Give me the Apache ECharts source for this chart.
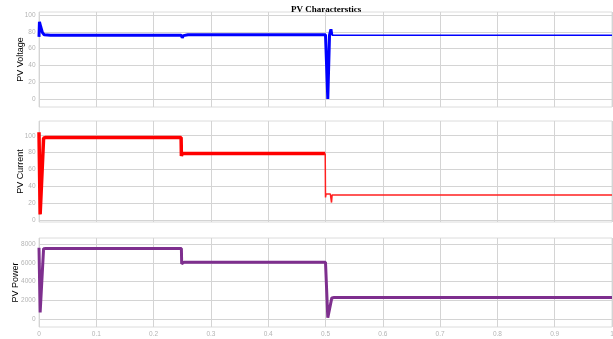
<!DOCTYPE html>
<html><head><meta charset="utf-8">
<script src="https://cdn.jsdelivr.net/npm/echarts@6/dist/echarts.min.js"></script>
<style>html,body{margin:0;padding:0;background:#fff}#c{width:613px;height:339px}</style>
</head><body><div id="c"></div>
<script>
// ---- data ----
const titleText = 'PV Characterstics';
const xTicks = [0,0.1,0.2,0.3,0.4,0.5,0.6,0.7,0.8,0.9,1];
const vTicks = [0,20,40,60,80,100];
const iTicks = [0,20,40,60,80,100];
const pTicks = [0,2000,4000,6000,8000];

// Voltage (thick part, then thin part)
const tV1 = [0, 0.0008, 0.003, 0.006, 0.009, 0.02, 0.248, 0.25, 0.252, 0.26, 0.5, 0.504, 0.507, 0.509, 0.5095, 0.5105, 0.511];
const vV1 = [74, 92, 86, 79, 76.5, 76, 76, 73, 75.5, 76.5, 76.5, 0, 76, 76, 83, 83, 76];
const tV2 = [0.511, 1];
const vV2 = [76, 76];

// Current
const tI1 = [0, 0.0003, 0.002, 0.008, 0.012, 0.248, 0.2485, 0.25, 0.4995];
const vI1 = [104, 104, 7, 97, 98, 98, 76, 79, 79];
const tI2 = [0.4995, 0.5, 0.5005, 0.501, 0.5085, 0.51, 0.5105, 0.5115, 1];
const vI2 = [79, 27, 27, 31, 31, 30, 21, 30, 30];

// Power
const tP = [0, 0.0003, 0.002, 0.008, 0.012, 0.2485, 0.249, 0.253, 0.5, 0.504, 0.511, 0.515, 1];
const vP = [7600, 7600, 700, 7500, 7520, 7520, 5900, 6050, 6050, 140, 2250, 2300, 2300];

const pair = (t, v) => t.map((x, i) => [x, v[i]]);

// ---- chart ----
const chart = echarts.init(document.getElementById('c'), null, {renderer: 'canvas'});
const gridColor = '#d4d4d4';
const labelColor = '#b4b4b4';
function yAxis(gi, name, min, max, ticks, gap) {
  return {
    type: 'value', gridIndex: gi, min: min, max: max,
    name: name, nameLocation: 'middle', nameGap: gap, nameRotate: 90, nameMoveOverlap: false,
    nameTextStyle: {color: '#000', fontSize: 9, fontFamily: 'Liberation Sans'},
    axisLine: {show: false},
    axisTick: {show: false, customValues: ticks},
    axisLabel: {customValues: ticks, color: labelColor, fontSize: 6.5, fontFamily: 'Liberation Sans', margin: 3.5,
      formatter: v => String(v)},
    splitLine: {show: true, lineStyle: {color: gridColor, width: 1}}
  };
}
function xAxis(gi, showLabels) {
  return {
    type: 'value', gridIndex: gi, min: 0, max: 1, interval: 0.1,
    axisLine: {show: false}, axisTick: {show: false},
    axisLabel: {show: showLabels, color: labelColor, fontSize: 6.5, fontFamily: 'Liberation Sans', margin: 4,
      customValues: xTicks, formatter: v => String(Math.round(v * 10) / 10)},
    splitLine: {show: true, lineStyle: {color: gridColor, width: 1}}
  };
}
const gridBase = {left: 39, width: 573, show: true, borderColor: '#dcdcdc', borderWidth: 1,
  containLabel: false, outerBoundsMode: 'none'};
function line(gi, data, color, w) {
  return {type: 'line', xAxisIndex: gi, yAxisIndex: gi, data: data, showSymbol: false, symbol: 'none',
    lineStyle: {color: color, width: w}, itemStyle: {color: color}, animation: false, z: 3};
}
chart.setOption({
  animation: false,
  backgroundColor: '#fff',
  title: {text: titleText, left: 286, top: 0,
    textStyle: {fontFamily: 'Liberation Serif', fontWeight: 'bold', fontSize: 9, color: '#000'}},
  grid: [
    Object.assign({}, gridBase, {top: 12, height: 95}),
    Object.assign({}, gridBase, {top: 121, height: 101}),
    Object.assign({}, gridBase, {top: 238, height: 89})
  ],
  xAxis: [xAxis(0, false), xAxis(1, false), xAxis(2, true)],
  yAxis: [
    yAxis(0, 'PV Voltage', -9.5, 103.6, vTicks, 13.5),
    yAxis(1, 'PV Current', -2, 117.4, iTicks, 13.5),
    yAxis(2, 'PV Power', -853, 8640, pTicks, 18.5)
  ],
  series: [
    line(0, pair(tV1, vV1), '#0000ff', 3),
    line(0, pair(tV2, vV2), '#0000ff', 1.5),
    line(1, pair(tI1, vI1), '#ff0000', 3.5),
    line(1, pair(tI2, vI2), '#ff2020', 1.5),
    line(2, pair(tP, vP), '#7e2f8e', 3)
  ]
});
</script></body></html>
